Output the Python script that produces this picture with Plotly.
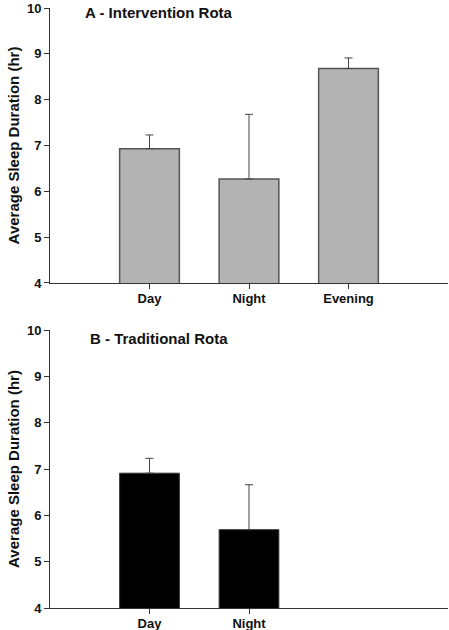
import plotly.graph_objects as go
from plotly.subplots import make_subplots

cats_a = ["Day", "Night", "Evening"]
means_a = [6.93, 6.27, 8.68]
err_a = [0.30, 1.41, 0.23]

cats_b = ["Day", "Night"]
means_b = [6.91, 5.69]
err_b = [0.32, 0.97]

y_ticks = [4, 5, 6, 7, 8, 9, 10]

FONT = "Liberation Sans, Arial, sans-serif"

fig = make_subplots(rows=2, cols=1)

fig.add_trace(go.Bar(
    x=cats_a, y=means_a, width=0.6,
    marker=dict(color="#b3b3b3", line=dict(color="#555555", width=1.5)),
    error_y=dict(type="data", array=err_a, arrayminus=[0]*len(err_a), symmetric=False,
                 color="#444444", thickness=1, width=4),
    showlegend=False), row=1, col=1)

fig.add_trace(go.Bar(
    x=cats_b, y=means_b, width=0.6,
    marker=dict(color="#000000", line=dict(color="#333333", width=1)),
    error_y=dict(type="data", array=err_b, arrayminus=[0]*len(err_b), symmetric=False,
                 color="#444444", thickness=1, width=4),
    showlegend=False), row=2, col=1)

tickfont = dict(family=FONT, size=13, color="#111111", weight="bold")

for r, cats, dom in [(1, cats_a, [0.5417, 1.0]), (2, cats_b, [0.0, 0.4633])]:
    fig.update_xaxes(row=r, col=1, type="category", categoryorder="array", categoryarray=cats,
                     range=[-1, 3], showline=True, linecolor="#333333", linewidth=1,
                     ticks="outside", ticklen=5, tickcolor="#333333", showgrid=False,
                     tickfont=tickfont, zeroline=False, automargin=False,
                     ticklabelstandoff=-2, ticklabeloverflow="allow")
    fig.update_yaxes(row=r, col=1, range=[4, 10], tickvals=y_ticks, showline=True,
                     linecolor="#333333", linewidth=1, ticks="outside", ticklen=5,
                     tickcolor="#333333", showgrid=False, zeroline=False,
                     tickfont=tickfont, automargin=False, domain=dom,
                     ticklabeloverflow="allow",
                     title=dict(text="<b>Average Sleep Duration (hr)</b>",
                                font=dict(family=FONT, size=15, color="#111111"),
                                standoff=3))

fig.update_layout(
    width=449, height=630,
    margin=dict(l=50, r=1, t=8, b=22),
    plot_bgcolor="white", paper_bgcolor="white",
    annotations=[
        dict(text="<b>A - Intervention Rota</b>", xref="paper", yref="paper", x=0.083, y=0.9917,
             xanchor="left", yanchor="middle", showarrow=False,
             font=dict(family=FONT, size=15, color="#111111")),
        dict(text="<b>B - Traditional Rota</b>", xref="paper", yref="paper", x=0.095, y=0.45,
             xanchor="left", yanchor="middle", showarrow=False,
             font=dict(family=FONT, size=15, color="#111111")),
    ],
)

fig.write_html("out.html", config={"displayModeBar": False},
               post_script="document.body.style.margin='0';")
